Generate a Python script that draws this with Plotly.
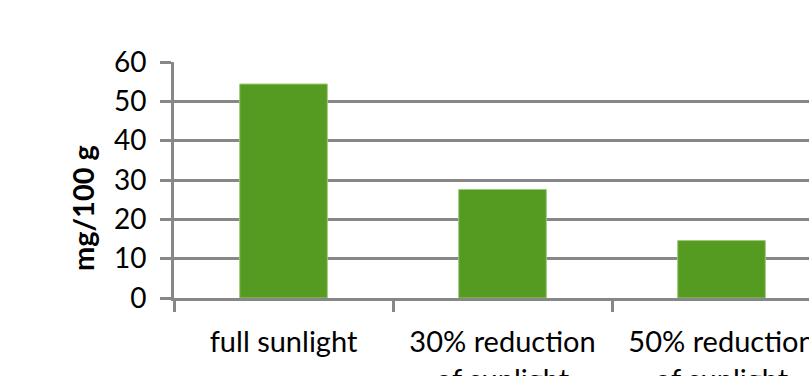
import plotly.graph_objects as go

categories = ["full sunlight", "30% reduction<br>of sunlight", "50% reduction<br>of sunlight", "70% reduction<br>of sunlight"]
values = [54.4, 27.6, 14.6, 8.0]
y_ticks = [0, 10, 20, 30, 40, 50, 60]
y_title = "mg/100 g"

W, H = 809, 376
L, R, T, B = 174, 0, 62, 78
plot_w = W - L - R
cat_px = 219

FONT = "Lato, 'Open Sans', sans-serif"
GRAY = "#878787"

fig = go.Figure(go.Bar(
    x=categories, y=values,
    marker=dict(color="#559a21", line=dict(color="#9cc97a", width=1)),
))

fig.update_layout(
    width=W, height=H,
    margin=dict(l=L, r=R, t=T, b=B, autoexpand=False),
    paper_bgcolor="white", plot_bgcolor="white",
    bargap=0.6, showlegend=False,
    font=dict(family=FONT, color="black", size=28),
    xaxis=dict(
        type="category",
        range=[-0.5, -0.5 + plot_w / cat_px],
        tickson="boundaries", ticks="outside", ticklen=11, tickwidth=3, tickcolor=GRAY,
        showline=True, linecolor=GRAY, linewidth=3,
        showgrid=False, automargin=False,
        tickfont=dict(size=29, family=FONT),
        ticklabelstandoff=16,
    ),
    yaxis=dict(
        range=[0, 60], tickvals=y_ticks,
        ticks="outside", ticklen=11, tickwidth=3, tickcolor=GRAY,
        showline=True, linecolor=GRAY, linewidth=3,
        showgrid=True, gridcolor=GRAY, gridwidth=3,
        zeroline=False, automargin=False,
        tickfont=dict(size=28, family=FONT),
        ticklabelstandoff=8,
    ),
    annotations=[dict(
        text=y_title, textangle=-90, showarrow=False,
        xref="paper", yref="paper",
        x=(82 - L) / plot_w, y=(298 - 208) / (H - T - B),
        xanchor="center", yanchor="middle",
        font=dict(size=29, family=FONT, color="black", weight="bold"),
    )],
)

fig.write_html("out.html")
